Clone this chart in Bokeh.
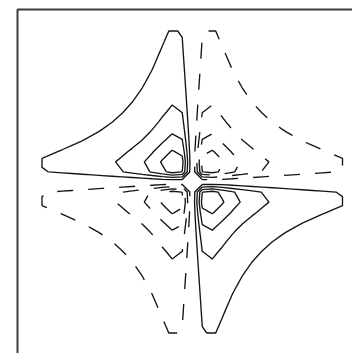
import numpy as np
from bokeh.plotting import figure
from bokeh.models import Range1d, BoxAnnotation
from bokeh.embed import file_html
from bokeh.resources import INLINE

# Sampling grid for the field
x_lim = [-1.0, 1.0]
y_lim = [-1.0, 1.0]
n_pts = 31
core = 0.0118  # squared half-width of the lobes

# Contour levels of the normalised field
pos_levels = [0.2, 0.4, 0.6, 0.8]
neg_levels = [-0.8, -0.6, -0.4, -0.2]

xs = np.linspace(x_lim[0], x_lim[1], n_pts)
ys = np.linspace(y_lim[0], y_lim[1], n_pts)
X, Y = np.meshgrid(xs, ys)
Z = -4.0 * core * X * Y / ((X**2 + core) * (Y**2 + core))

# A zero rim just outside the sampled square closes the contours along its edge
eps = 1e-4
xs_p = np.concatenate([[x_lim[0] - eps], xs, [x_lim[1] + eps]])
ys_p = np.concatenate([[y_lim[0] - eps], ys, [y_lim[1] + eps]])
Z_p = np.zeros((n_pts + 2, n_pts + 2))
Z_p[1:-1, 1:-1] = Z

p = figure(
    width=352, height=353,
    x_range=Range1d(-1.2762, 1.0666),
    y_range=Range1d(-1.1358, 1.202),
    x_axis_type=None, y_axis_type=None,
    toolbar_location=None, output_backend="svg",
    min_border=0, outline_line_color=None,
)
p.xgrid.visible = False
p.ygrid.visible = False
p.background_fill_color = "white"
p.border_fill_color = "white"

line_col = "#141414"
p.contour(xs_p, ys_p, Z_p, levels=pos_levels, line_color=line_col, line_width=1.35)
p.contour(xs_p, ys_p, Z_p, levels=neg_levels, line_color=line_col, line_width=1.35,
          line_dash="16 15")

# Axes box (right and bottom edges fall outside the view)
frame = BoxAnnotation(left=-1.163, top=1.1424, right=3.0, bottom=-3.0,
                      fill_color=None, fill_alpha=0.0,
                      line_color="#3a3a3a", line_alpha=1.0, line_width=2)
p.add_layout(frame)

open("out.html", "w").write(file_html(p, INLINE))
